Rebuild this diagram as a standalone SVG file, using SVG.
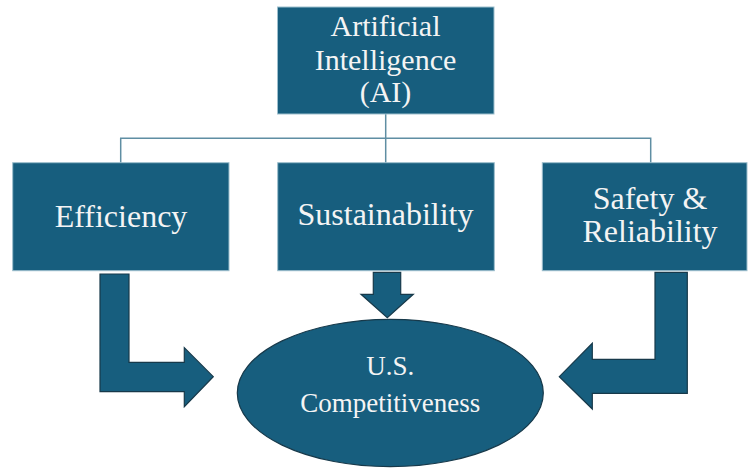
<svg xmlns="http://www.w3.org/2000/svg" width="748" height="468" viewBox="0 0 748 468">
<style>
.box{fill:#175e7e;stroke:#9dbfcd;stroke-width:1}
.arrow{fill:#175e7e;stroke:#17394a;stroke-width:1.2;stroke-linejoin:miter}
.conn{fill:none;stroke:#5f8ea3;stroke-width:1.5}
.t{font-family:"Liberation Serif","Times New Roman",serif;fill:#f4f4f4;text-anchor:middle}
.big{font-size:32px}
.top{font-size:30px}
.small{font-size:27px}
</style>
<rect width="748" height="468" fill="#ffffff"/>
<g id="connectors">
<path class="conn" d="M385.7 114 V163 M120.7 163 V138.3 H650.7 V163"/>
<path class="arrow" d="M100 274 H129 V362.3 H184.3 V347.7 L213.3 376.7 L184.3 406.7 V391.7 H100 Z"/>
<path class="arrow" d="M373.3 272.3 H400.7 V294.3 H413.3 L387.3 317.7 L361 294.3 H373.3 Z"/>
<path class="arrow" d="M687.3 272.3 H655 V359.3 H592.3 V343.3 L559.3 376.7 L592.3 409 V393.3 H687.3 Z"/>
</g>
<g id="ai">
<rect class="box" x="277.5" y="7" width="216.5" height="107"/>
<text class="t top" x="385.5" y="36">Artificial</text>
<text class="t top" x="385.5" y="69.5">Intelligence</text>
<text class="t top" x="385.5" y="102">(AI)</text>
</g>
<g id="efficiency">
<rect class="box" x="12.7" y="162.7" width="216.3" height="108"/>
<text class="t big" x="121" y="227">Efficiency</text>
</g>
<g id="sustainability">
<rect class="box" x="277.7" y="162.7" width="216.6" height="108"/>
<text class="t big" x="385.5" y="225">Sustainability</text>
</g>
<g id="safety">
<rect class="box" x="542.3" y="162.7" width="204.7" height="108"/>
<text class="t big" x="650" y="208.5">Safety &amp;</text>
<text class="t big" x="650" y="242">Reliability</text>
</g>
<g id="competitiveness">
<ellipse class="arrow" cx="390.3" cy="393" rx="153" ry="73.7"/>
<text class="t small" x="390.3" y="375">U.S.</text>
<text class="t small" x="390.3" y="411.7">Competitiveness</text>
</g>
</svg>
